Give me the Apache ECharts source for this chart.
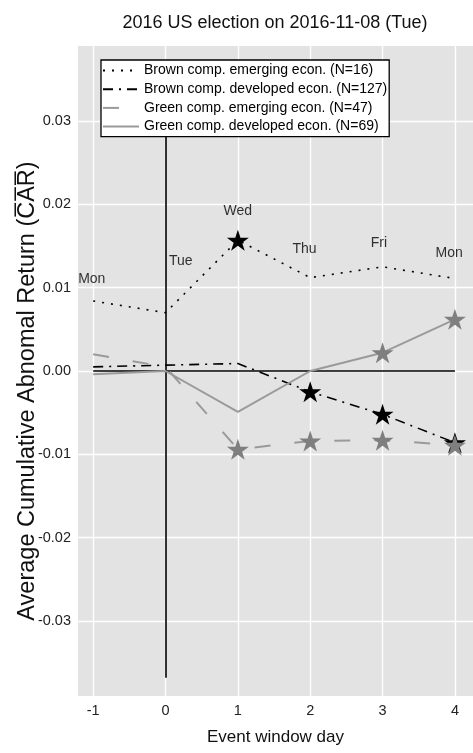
<!DOCTYPE html>
<html>
<head>
<meta charset="utf-8">
<script src="https://cdn.jsdelivr.net/npm/echarts@6/dist/echarts.min.js"></script>
<style>
html,body{margin:0;padding:0;background:#fff;}
#chart{width:473px;height:753px;}
</style>
</head>
<body>
<div id="chart"></div>
<script>
// ---- data ----
const days = [-1, 0, 1, 2, 3, 4];
const xTicks = [-1, 0, 1, 2, 3, 4];
const yTicks = [-0.03, -0.02, -0.01, 0, 0.01, 0.02, 0.03];

const seriesNames = [
  'Brown comp. emerging econ. (N=16)',
  'Brown comp. developed econ. (N=127)',
  'Green comp. emerging econ. (N=47)',
  'Green comp. developed econ. (N=69)'
];
const brownEmerging  = [0.0084, 0.0070, 0.0157, 0.0112, 0.0125, 0.0111];
const brownDeveloped = [0.0005, 0.0007, 0.0009, -0.0025, -0.0052, -0.0086];
const greenEmerging  = [0.0020, 0.0005, -0.0094, -0.0084, -0.0083, -0.0089];
const greenDeveloped = [-0.0004, 0.0000, -0.0049, 0.0000, 0.0022, 0.0062];

// significant days (marked with a star)
const brownEmergingSig  = [0, 0, 1, 0, 0, 0];
const brownDevelopedSig = [0, 0, 0, 1, 1, 1];
const greenEmergingSig  = [0, 0, 1, 1, 1, 1];
const greenDevelopedSig = [0, 0, 0, 0, 1, 1];

// weekday annotations
const dayNames  = ['Mon', 'Tue', 'Wed', 'Thu', 'Fri', 'Mon'];
const dayLabelX = [-1.02, 0.21, 1.0, 1.92, 2.95, 3.92];
const dayLabelY = [0.0110, 0.0132, 0.0192, 0.0146, 0.0154, 0.0141];

// reference lines
const zeroLineX = [-1, 4];
const eventLineY = [-0.0368, 0.037];

// ---- chart ----
const FONT = '"Liberation Sans", Arial, sans-serif';
const STAR = 'path://M50 0 L61.23 34.55 L97.55 34.55 L68.17 55.9 L79.39 90.45 L50 69.1 L20.61 90.45 L31.83 55.9 L2.45 34.55 L38.77 34.55 Z';

function pairs(vals) { return days.map((d, i) => [d, vals[i]]); }
function starPts(vals, sig) { return days.map((d, i) => [d, vals[i]]).filter((p, i) => sig[i]); }

const lineDefs = [
  { vals: brownEmerging,  sig: brownEmergingSig,  color: '#000', width: 1.6, type: [2, 7],          star: '#000' },
  { vals: brownDeveloped, sig: brownDevelopedSig, color: '#000', width: 1.6, type: [10, 6, 2, 6],   star: '#000' },
  { vals: greenEmerging,  sig: greenEmergingSig,  color: '#9a9a9a', width: 2, type: [16, 24],      star: '#7f7f7f' },
  { vals: greenDeveloped, sig: greenDevelopedSig, color: '#9a9a9a', width: 2, type: 'solid',       star: '#7f7f7f' }
];

const series = [];
lineDefs.forEach((d, k) => {
  const s = {
    name: seriesNames[k],
    type: 'line',
    data: pairs(d.vals),
    symbol: 'none',
    lineStyle: { color: d.color, width: d.width, type: d.type, cap: 'butt' },
    itemStyle: { color: d.color },
    z: 3,
    silent: true
  };
  if (k === 0) {
    s.markLine = {
      silent: true,
      symbol: 'none',
      label: { show: false },
      lineStyle: { color: '#000', width: 1.6, type: 'solid' },
      data: [
        [{ coord: [zeroLineX[0], 0] }, { coord: [zeroLineX[1], 0] }],
        [{ coord: [0, eventLineY[0]] }, { coord: [0, eventLineY[1]] }]
      ],
      z: 2
    };
  }
  series.push(s);
});
lineDefs.forEach((d, k) => {
  series.push({
    type: 'scatter',
    data: starPts(d.vals, d.sig),
    symbol: STAR,
    symbolSize: 22,
    symbolKeepAspect: true,
    itemStyle: { color: d.star, opacity: 1 },
    z: 5 + k,
    silent: true
  });
});
series.push({
  type: 'scatter',
  data: dayNames.map((n, i) => ({ name: n, value: [dayLabelX[i], dayLabelY[i]] })),
  symbolSize: 0,
  label: {
    show: true, position: 'inside', formatter: p => p.name,
    fontSize: 14, color: '#000', fontFamily: FONT
  },
  z: 6,
  silent: true
});

const chart = echarts.init(document.getElementById('chart'), null, { renderer: 'canvas' });
chart.setOption({
  animation: false,
  backgroundColor: '#fff',
  title: {
    text: '2016 US election on 2016-11-08 (Tue)',
    left: 275, top: 14, textAlign: 'center', padding: 0,
    textStyle: { fontSize: 18, fontWeight: 'normal', color: '#111', fontFamily: FONT }
  },
  legend: {
    data: seriesNames,
    orient: 'vertical',
    left: 101, top: 60,
    itemWidth: 36, itemHeight: 14, itemGap: 4.7,
    padding: [3.5, 2, 3, 1],
    backgroundColor: '#fff', borderColor: '#000', borderWidth: 1.3, borderRadius: 0,
    itemStyle: { opacity: 0 },
    textStyle: { fontSize: 14, color: '#000', fontFamily: FONT, lineHeight: 14 },
    selectedMode: false
  },
  grid: { left: 78, right: 0, top: 46, bottom: 57, show: true, backgroundColor: '#e3e3e3', borderWidth: 0,
    outerBoundsMode: 'none', containLabel: false },
  xAxis: {
    type: 'value', min: -1.21, max: 4.25,
    name: 'Event window day', nameLocation: 'middle', nameGap: 33, nameMoveOverlap: false,
    nameTextStyle: { fontSize: 17, color: '#111', fontFamily: FONT },
    axisLine: { show: false },
    axisTick: { show: false, customValues: xTicks },
    axisLabel: { customValues: xTicks, fontSize: 14.5, color: '#222', margin: 7, fontFamily: FONT },
    splitLine: { show: true, lineStyle: { color: '#fff', width: 1.4 } }
  },
  yAxis: {
    type: 'value', min: -0.039, max: 0.039,
    name: 'Average Cumulative Abnomal Return (C\u0305A\u0305R\u0305)',
    nameLocation: 'middle', nameGap: 38, nameRotate: 90, nameMoveOverlap: false,
    nameTextStyle: { fontSize: 23.5, color: '#111', fontFamily: FONT, padding: [0, 40, 0, 0] },
    axisLine: { show: false },
    axisTick: { show: false, customValues: yTicks },
    axisLabel: { customValues: yTicks, fontSize: 14.5, color: '#222', margin: 7, fontFamily: FONT,
      formatter: v => v.toFixed(2) },
    splitLine: { show: true, lineStyle: { color: '#fff', width: 1.4 } }
  },
  series: series
});
</script>
</body>
</html>
